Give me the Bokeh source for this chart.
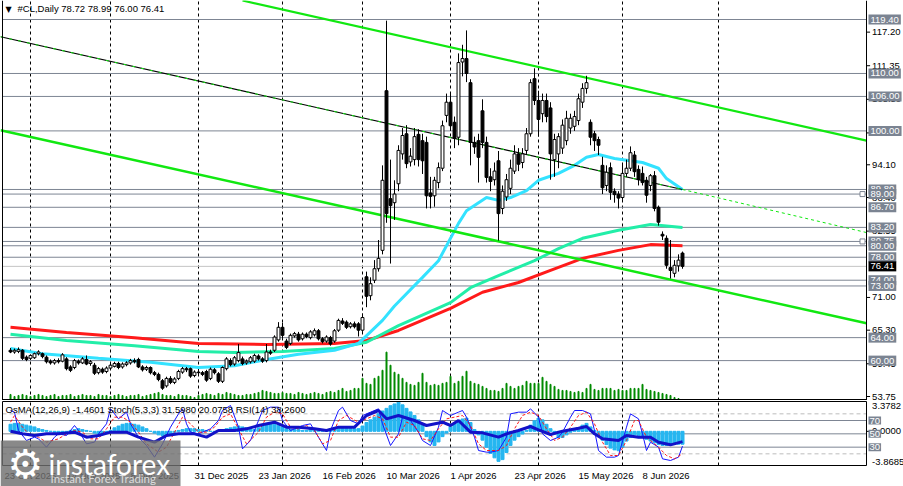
from bokeh.plotting import figure
from bokeh.models import Range1d, Label, ColumnDataSource, BoxAnnotation
from bokeh.layouts import column
from bokeh.core.properties import value
from bokeh.embed import file_html
from bokeh.resources import INLINE

# ---------------- data ----------------
symbol_header = "#CL,Daily  78.72 78.99 76.00 76.41"
ind_header = "OsMA(12,26,9) -1.4601  Stoch(5,3,3) 31.5980 20.0758  RSI(14) 38.2600"

bar_open = [
    61.8, 61.5, 61.6, 61.8, 60.6, 60.4, 60.5, 61.2, 61.2, 60.6,
    59.9, 59.6, 60.0, 59.9, 60.3, 58.9, 58.8, 59.9, 59.6, 60.2,
    59.5, 59.2, 57.9, 58.5, 58.1, 58.7, 59.0, 59.5, 58.9, 59.3,
    59.6, 60.0, 60.2, 58.9, 58.5, 58.8, 57.9, 57.6, 56.5, 55.6,
    56.9, 56.2, 56.9, 58.0, 58.6, 58.6, 57.4, 58.0, 57.9, 58.1,
    56.9, 58.4, 57.7, 56.4, 58.6, 60.0, 59.4, 60.0, 60.3, 59.6,
    59.8, 59.9, 60.8, 60.3, 60.0, 61.5, 61.8, 63.6, 65.8, 63.4,
    63.0, 64.3, 64.6, 63.8, 64.6, 64.0, 64.5, 65.2, 63.8, 63.4,
    64.0, 63.4, 65.3, 66.9, 66.7, 65.9, 66.4, 66.4, 65.3, 74.6,
    71.3, 74.0, 76.0, 79.2, 107.0, 88.2, 87.5, 90.8, 96.0, 99.5,
    94.6, 95.0, 99.4, 98.3, 98.0, 89.2, 88.7, 91.0, 93.5, 102.7,
    105.0, 101.5, 98.9, 112.0, 112.6, 108.4, 98.0, 98.3, 103.5, 98.0,
    92.0, 91.5, 94.8, 86.5, 88.5, 90.0, 93.0, 96.0, 94.5, 96.6,
    99.5, 109.1, 105.3, 103.0, 105.3, 104.0, 95.0, 96.0, 97.0, 98.3,
    100.5, 100.8, 101.8, 105.0, 107.4, 101.5, 99.5, 98.5, 94.0, 90.5,
    93.6, 89.5, 89.0, 88.4, 92.6, 93.5, 95.8, 93.3, 92.6, 91.4,
    90.5, 92.2, 86.7, 82.0, 81.3, 76.2, 75.2, 76.5, 78.72]
bar_high = [
    62.2, 62.1, 62.3, 62.0, 60.9, 61.1, 61.4, 61.8, 61.4, 60.9,
    60.2, 60.3, 60.4, 61.3, 60.6, 59.2, 60.3, 60.2, 60.6, 60.9,
    60.1, 59.6, 58.9, 58.8, 59.0, 59.5, 59.8, 59.8, 59.7, 59.9,
    60.3, 60.4, 60.5, 59.2, 59.1, 59.0, 58.2, 57.9, 56.8, 57.2,
    57.3, 57.1, 58.4, 58.9, 58.9, 58.8, 58.3, 58.4, 58.2, 58.4,
    58.8, 58.7, 58.0, 59.0, 60.6, 60.4, 60.8, 62.9, 60.7, 60.2,
    60.8, 61.2, 61.1, 60.6, 62.9, 61.9, 64.4, 66.7, 66.6, 63.8,
    64.7, 65.0, 65.0, 64.9, 64.9, 65.3, 65.6, 65.5, 64.1, 64.4,
    64.3, 65.5, 67.3, 67.4, 67.0, 66.7, 66.8, 66.7, 68.2, 75.5,
    74.5, 77.5, 81.0, 94.0, 119.2, 95.0, 91.4, 97.5, 100.5, 101.0,
    97.0, 100.5, 100.3, 99.5, 99.0, 92.0, 92.0, 94.5, 101.8, 106.5,
    106.5, 102.5, 113.5, 115.0, 117.5, 109.0, 99.0, 99.5, 105.5, 99.0,
    93.5, 94.5, 96.5, 90.5, 92.5, 95.0, 97.5, 97.0, 97.0, 100.5,
    109.0, 110.9, 107.0, 106.5, 106.5, 105.0, 99.5, 99.6, 102.0, 103.5,
    103.0, 103.5, 106.5, 108.3, 109.6, 102.0, 100.0, 99.0, 95.5, 94.0,
    94.5, 90.0, 89.5, 94.5, 95.0, 97.3, 96.5, 94.0, 93.8, 92.0,
    92.5, 93.0, 87.0, 82.5, 81.8, 81.0, 77.5, 78.5, 78.99]
bar_low = [
    61.3, 61.2, 61.3, 60.1, 59.9, 60.1, 60.3, 60.9, 60.4, 59.5,
    59.3, 59.3, 59.5, 59.7, 58.3, 58.0, 58.5, 59.3, 59.4, 59.2,
    59.1, 57.5, 57.6, 57.7, 57.8, 58.4, 58.8, 58.5, 58.6, 59.0,
    59.3, 59.5, 58.7, 58.1, 58.2, 57.6, 57.3, 56.4, 54.9, 55.3,
    55.9, 55.9, 56.6, 57.7, 58.0, 57.0, 57.1, 57.6, 57.3, 56.3,
    56.6, 57.6, 56.1, 56.1, 58.3, 59.0, 59.1, 59.7, 59.2, 59.3,
    59.5, 59.6, 60.0, 59.6, 59.7, 61.0, 61.5, 63.3, 63.9, 62.0,
    62.7, 64.0, 63.3, 63.5, 63.9, 63.7, 64.2, 63.5, 63.0, 63.1,
    62.6, 63.1, 65.0, 66.2, 65.5, 65.6, 65.6, 64.2, 65.0, 69.3,
    70.5, 73.5, 75.5, 78.5, 84.0, 76.9, 84.5, 89.5, 95.0, 93.5,
    93.8, 94.0, 93.8, 92.5, 86.5, 86.5, 86.8, 90.0, 93.0, 101.5,
    100.0, 97.0, 97.5, 109.5, 108.5, 94.0, 96.0, 91.0, 97.0, 91.0,
    89.5, 90.5, 80.9, 85.5, 87.8, 89.0, 92.5, 93.0, 93.5, 96.0,
    99.0, 104.5, 99.0, 101.5, 101.5, 91.5, 92.0, 93.5, 96.0, 97.5,
    99.5, 100.0, 101.0, 104.0, 106.5, 97.5, 96.5, 95.8, 89.0, 89.5,
    88.0, 87.5, 86.5, 88.0, 92.0, 93.0, 92.0, 90.5, 90.5, 87.5,
    89.5, 86.0, 83.5, 81.0, 76.0, 74.3, 74.5, 75.5, 76.00]
bar_close = [
    61.5, 61.8, 61.9, 60.4, 60.2, 60.9, 61.2, 61.5, 60.7, 59.8,
    59.6, 60.0, 59.8, 61.0, 58.6, 58.3, 60.0, 59.6, 60.3, 59.4,
    59.8, 57.8, 58.6, 58.0, 58.7, 59.2, 59.5, 58.8, 59.4, 59.6,
    60.0, 59.8, 58.9, 58.4, 58.8, 57.9, 57.6, 56.7, 55.2, 56.9,
    56.2, 56.8, 58.1, 58.6, 58.4, 57.3, 58.0, 57.9, 57.6, 56.6,
    58.5, 57.9, 56.4, 58.8, 60.3, 59.3, 60.5, 61.4, 59.5, 59.9,
    60.5, 60.9, 60.3, 59.9, 61.5, 61.3, 64.1, 65.8, 64.4, 62.3,
    64.4, 64.7, 63.6, 64.6, 64.2, 65.0, 65.2, 63.8, 63.3, 64.1,
    62.9, 65.2, 67.0, 66.5, 65.8, 66.4, 65.9, 65.3, 67.5, 71.2,
    73.4, 76.0, 77.8, 91.4, 85.6, 87.0, 89.0, 96.6, 99.2, 94.3,
    95.6, 99.0, 95.0, 94.8, 88.7, 88.6, 91.4, 93.6, 100.9, 105.0,
    100.9, 98.7, 111.9, 112.6, 110.0, 98.0, 97.2, 95.4, 98.0, 91.9,
    91.2, 93.0, 85.6, 89.5, 91.5, 93.5, 96.0, 94.2, 96.0, 99.5,
    108.4, 105.3, 102.0, 105.3, 102.5, 96.0, 98.5, 99.0, 101.0, 102.2,
    102.2, 102.5, 105.6, 107.4, 108.4, 98.9, 98.3, 97.5, 90.1, 92.8,
    89.3, 88.9, 88.3, 92.6, 93.5, 96.2, 92.9, 91.5, 91.0, 88.8,
    92.2, 86.5, 84.1, 81.7, 76.6, 75.7, 76.6, 77.5, 76.41]
volume = [
    6, 4, 5, 6, 5, 4, 5, 6, 5, 4,
    5, 6, 4, 5, 5, 6, 4, 5, 6, 5,
    5, 4, 6, 5, 5, 4, 5, 6, 5, 4,
    5, 5, 6, 4, 5, 6, 7, 8, 6, 5,
    5, 4, 6, 5, 5, 4, 3, 5, 6, 7,
    6, 5, 7, 6, 8, 7, 6, 5, 5, 6,
    6, 7, 8, 10, 9, 8, 7, 7, 8, 7,
    7, 6, 8, 7, 6, 7, 8, 7, 6, 8,
    9, 8, 10, 12, 9, 10, 12, 12, 22,
    17, 16, 22, 24, 30, 48, 35, 28, 26, 22, 18, 16, 15, 18, 27,
    18, 15, 16, 15, 17, 18,
    24, 17, 19, 24, 29, 19, 17, 16, 14, 12,
    10, 10, 9, 12, 17, 14, 12, 14, 15, 19,
    17, 17, 17, 23, 19, 16, 14, 11, 10, 10,
    9, 8, 9, 8, 12, 16, 11, 10, 12, 12,
    12, 10, 11, 10, 10, 12, 12, 12, 16, 11,
    10, 9, 8, 7, 6, 5, 3, 2, 1]

ma_fast_idx = [0, 8, 22, 35, 47, 56, 64, 72, 81, 87, 93, 96, 103, 107, 112, 114, 119, 122, 125, 129, 132, 137, 141, 144, 147, 151, 158, 162, 164, 168]
ma_fast = [62.1, 61.2, 60.4, 59.7, 58.8, 59.1, 60.2, 61.1, 61.8, 63.0, 67.0, 69.5, 74.5, 77.4, 83.9, 86.1, 88.4, 87.9, 88.4, 89.6, 91.4, 92.6, 94.0, 95.4, 95.9, 95.2, 94.5, 93.5, 91.7, 89.8]
ma_mid_idx = [0, 14, 31, 47, 56, 68, 81, 89, 97, 110, 115, 122, 131, 137, 143, 152, 160, 168]
ma_mid = [64.6, 63.5, 62.6, 61.6, 61.4, 61.6, 62.1, 63.2, 66.1, 70.1, 72.7, 74.8, 77.4, 79.5, 81.3, 82.7, 83.7, 83.2]
ma_slow_idx = [0, 14, 31, 47, 64, 81, 89, 97, 110, 118, 127, 135, 143, 152, 160, 168]
ma_slow = [65.8, 64.9, 64.0, 63.0, 62.8, 63.0, 63.5, 65.25, 69.1, 71.9, 73.6, 75.7, 77.8, 79.2, 80.2, 80.0]

# trend lines: (bar index, price) anchors
chan_top_idx = [58, 214]
chan_top = [122.7, 98.3]
chan_low_idx = [-2.5, 214]
chan_low = [100.1, 66.5]
mid_line_idx = [-2.5, 168]
mid_line = [116.4, 89.8]
mid_ext_idx = [168, 214]
mid_ext = [89.8, 82.3]

levels = [119.40, 110.00, 106.00, 100.00, 89.80, 89.00, 86.70, 83.20, 80.75, 80.00, 78.00, 74.00, 73.00, 64.00, 60.00]
anchored_levels = [89.00, 80.75]
last_price = 76.41
price_ticks = [117.20, 111.35, 105.50, 99.65, 94.10, 88.40, 82.55, 71.00, 65.30, 59.45, 53.75]

month_starts = [5, 25, 47, 68, 88, 110, 132, 153, 177]
date_ticks = [-1.5, 14, 30, 46, 62, 78, 94, 110, 126, 142, 158]
date_labels = ["23 Oct 2025", "14 Nov 2025", "8 Dec 2025", "31 Dec 2025", "23 Jan 2026", "16 Feb 2026",
               "10 Mar 2026", "1 Apr 2026", "23 Apr 2026", "15 May 2026", "8 Jun 2026"]

osma = [
    0.8, 0.9, 0.9, 0.8, 0.7, 0.6, 0.5, 0.3, 0.2, 0.1,
    0.0, -0.1, -0.2, -0.2, -0.1, 0.1, 0.2, 0.3, 0.2, 0.1,
    0.0, -0.2, -0.3, -0.2, -0.1, 0.1, 0.4, 0.6, 0.8, 0.9,
    0.9, 0.8, 0.7, 0.5, 0.3, 0.0, -0.2, -0.4, -0.5, -0.4,
    -0.3, -0.1, 0.1, 0.2, 0.3, 0.3, 0.3, 0.2, 0.2, 0.1,
    0.0, -0.1, 0.0, 0.1, 0.3, 0.4, 0.5, 0.6, 0.5, 0.4,
    0.3, 0.2, 0.4, 0.6, 0.8, 0.9, 0.8, 0.7, 0.5, 0.3,
    0.2, 0.2, 0.2, 0.1, 0.1, 0.2, 0.2, 0.1, 0.1, 0.2,
    0.3, 0.3, 0.4, 0.4, 0.4, 0.3, 0.3, 0.3, 0.6, 1.0,
    1.3, 1.6, 2.0, 2.3, 2.6, 2.9, 3.1, 3.3, 3.0, 2.6,
    2.2, 1.8, 1.3, 0.8, -0.6, -1.2, -1.6, -1.2, -0.6, -0.2,
    0.5, 0.9, 1.2, 1.4, 1.5, 1.0, 0.2, -0.4, -1.0, -1.8,
    -2.5, -3.0, -3.4, -3.2, -2.4, -1.6, -1.0, -0.6, -0.3, 0.1,
    0.7, 1.2, 1.5, 1.3, 0.8, 0.3, -0.3, -0.7, -0.7, -0.4,
    -0.1, 0.2, 0.4, 0.7, 0.9, 0.5, 0.1, -0.5, -1.0, -1.5,
    -1.9, -2.1, -2.2, -1.8, -1.1, -0.7, -0.4, -0.5, -0.7, -0.9,
    -1.1, -1.3, -1.5, -1.6, -1.6, -1.5, -1.5, -1.45, -1.46]
osma_min, osma_max = -3.8685, 3.3782

rsi_idx = [0, 3, 6, 9, 12, 16, 19, 22, 25, 29, 32, 36, 39, 42, 46, 49, 52, 56, 59, 62, 66, 69, 72, 76, 79, 82, 86, 89, 92, 94,
           97, 101, 104, 108, 110, 112, 115, 118, 122, 124, 127, 130, 132, 135, 138, 142, 144, 146, 148, 152, 154, 157, 160, 162, 165, 168]
rsi = [54, 50, 47.5, 50, 50, 52.5, 45, 47.5, 52.5, 52.5, 45, 37.5, 47.5, 50, 50, 45, 55, 55, 57.5, 62.5, 67.5, 60, 60, 57.5, 55, 60, 60, 77.5, 85, 72.5,
       77.5, 70, 62.5, 67.5, 62.5, 70, 52.5, 51.5, 45, 50, 55, 61, 56, 49, 54, 58.5, 61, 50, 42.5, 40, 47.5, 45, 45, 37.5, 33.5, 38.26]

stoch_idx = [0, 1, 2, 4, 6, 7, 9, 11, 12, 14, 16, 17, 19, 21, 22, 24, 25, 27, 29, 30, 32, 34, 36, 38, 40, 42, 43, 44, 45, 47,
             50, 52, 53, 55, 57, 58, 60, 62, 63, 65, 67, 68, 70, 72, 73, 75, 77, 79, 80, 82, 83, 85, 87, 88, 90, 92, 93, 95, 97, 98,
             100, 102, 103, 105, 107, 108, 110, 112, 113, 114, 116, 117, 119, 120, 122, 124, 125, 127, 129, 130, 132, 133, 135, 137, 138, 140, 141, 143, 145, 146,
             147, 149, 151, 152, 154, 155, 157, 158, 159, 160, 162, 163, 165, 167, 168]
stoch_main = [85, 82.5, 55, 40, 45, 42.5, 30, 45, 50, 47.5, 62.5, 55, 35, 37.5, 50, 65, 87.5, 72.5, 82.5, 65, 45, 32.5, 15, 35, 60, 80, 87.5, 65, 52.5, 50,
              57.5, 70, 85, 92.5, 60, 27.5, 40, 70, 85, 90, 90, 70, 55, 60, 62.5, 65, 45, 25, 55, 85, 90, 70, 65, 77.5, 82.5, 87.5, 65, 32.5, 50, 75,
              70, 52.5, 40, 32.5, 60, 85, 77.5, 82.5, 85, 75, 45, 25, 22.5, 22.5, 25, 45, 80, 82.5, 82.5, 87.5, 75, 50, 40, 45, 52.5, 75, 85, 85, 80, 55,
              25, 15, 15, 17.5, 60, 80, 72.5, 50, 25, 37.5, 30, 12.5, 10, 15, 31.6]
sig_idx = [0, 1, 3, 5, 7, 9, 12, 14, 16, 18, 20, 22, 24, 26, 28, 30, 32, 34, 37, 39, 41, 43, 45, 47, 49, 51, 53, 55, 57, 59,
           62, 64, 66, 68, 70, 72, 74, 76, 78, 80, 82, 84, 87, 89, 91, 93, 95, 97, 99, 101, 103, 105, 107, 109, 111, 113, 115, 117, 119, 122,
           124, 126, 128, 130, 132, 134, 136, 138, 140, 142, 144, 146, 148, 150, 152, 154, 156, 157, 159, 162, 164, 166, 168]
stoch_signal = [67.5, 77.5, 60, 47.5, 45, 37.5, 42.5, 50, 55, 52.5, 42.5, 42.5, 57.5, 75, 75, 67.5, 52.5, 35, 22.5, 30, 52.5, 75, 65, 52.5, 52.5, 60, 75, 80, 57.5, 35,
                52.5, 75, 82.5, 80, 60, 57.5, 62.5, 55, 35, 40, 70, 77.5, 67.5, 72.5, 77.5, 72.5, 45, 45, 67.5, 62.5, 42.5, 40, 57.5, 72.5, 75, 77.5, 62.5, 35, 25, 25,
                32.5, 57.5, 77.5, 82.5, 77.5, 57.5, 40, 45, 60, 77.5, 82.5, 65, 37.5, 17.5, 17.5, 40, 70, 70, 45, 30, 17.5, 12.5, 20.08]
ind_levels = [70, 50, 30]
ind_dash_levels = [80, 20]

# ---------------- layout constants (pixels) ----------------
FONT = "Liberation Sans"
FS = "9.5px"
LEVEL_GREY = "#7d8593"
BOX_GREY = "#7b8492"
W = 903
MAIN_H, IND_H = 400, 86
PX_PER_BAR = 4.0
X_START = -2.5                      # bar index at the left edge of the canvas
AXIS_PX = 866                       # price-scale line
LEFT_PX = 2

def x_at(px):
    return X_START + px / PX_PER_BAR

# main panel price scale: 119.40 at y=19 px, 53.75 at y=396 px
P_PER_PX = (119.40 - 53.75) / (396 - 19)
def price_at(py):
    return 119.40 - (py - 19) * P_PER_PX

# indicator panel occupies y=401..465 within the page (ind canvas starts at y=400)
IND_TOP, IND_BOT = 401, 465
OSC_TOP, OSC_BOT = 98.5, 2.5
O_PER_PX = (OSC_TOP - OSC_BOT) / (IND_BOT - IND_TOP)
def osc_at(py):
    return OSC_TOP - (py - IND_TOP) * O_PER_PX
M_PER_PX = (osma_max - osma_min) / (IND_BOT - IND_TOP)
def osma_at(py):
    return osma_max - (py - IND_TOP) * M_PER_PX

axis_x = x_at(AXIS_PX)
left_x = x_at(LEFT_PX)
xr = Range1d(X_START, x_at(W))

# ---------------- main panel ----------------
main = figure(width=W, height=MAIN_H, x_range=xr, y_range=Range1d(price_at(MAIN_H), price_at(0)),
              x_axis_location=None, y_axis_location=None, toolbar_location=None, output_backend="svg",
              min_border=0, outline_line_color=None, background_fill_color="white", border_fill_color="white")
main.xgrid.visible = False
main.ygrid.visible = False
main.extra_y_ranges = {"vol": Range1d(0, 397)}

ylo, yhi = price_at(MAIN_H), price_at(0)
main.segment(x0=month_starts, x1=month_starts, y0=[ylo] * len(month_starts), y1=[yhi] * len(month_starts),
             line_color="black", line_dash="3 3", line_width=1)
main.segment(x0=[left_x] * len(levels), x1=[axis_x] * len(levels), y0=levels, y1=levels, line_color=LEVEL_GREY, line_width=1)
main.segment(x0=[left_x], x1=[axis_x], y0=[last_price], y1=[last_price], line_color="#c4c4c4", line_width=1)

xs = list(range(len(bar_close)))
main.vbar(x=xs, top=volume, bottom=0, width=0.25, y_range_name="vol", color="#008a00")

main.line(ma_slow_idx, ma_slow, line_color="#ff1a1a", line_width=3)
main.line(ma_mid_idx, ma_mid, line_color="#22eea8", line_width=3)
main.line(ma_fast_idx, ma_fast, line_color="#33e2ff", line_width=3)

main.line(chan_top_idx, chan_top, line_color="#11e811", line_width=2.2)
main.line(chan_low_idx, chan_low, line_color="#11e811", line_width=2.5)
main.line(mid_line_idx, mid_line, line_color="black", line_width=1.2)
main.line(mid_line_idx, mid_line, line_color="#11e811", line_width=1, line_dash="3 6")
main.line(mid_ext_idx, mid_ext, line_color="#11e811", line_width=1, line_dash="3 3")

up = [c >= o for o, c in zip(bar_open, bar_close)]
src = ColumnDataSource(dict(
    x=xs, h=bar_high, l=bar_low,
    top=[max(o, c) for o, c in zip(bar_open, bar_close)],
    bot=[min(o, c) for o, c in zip(bar_open, bar_close)],
    fill=["white" if u else "black" for u in up]))
main.segment(x0="x", y0="l", x1="x", y1="h", source=src, line_color="black", line_width=1)
main.vbar(x="x", top="top", bottom="bot", width=0.72, source=src, fill_color="fill", line_color="black", line_width=1)

main.scatter(x=[axis_x - 1.0] * len(anchored_levels), y=anchored_levels, marker="square", size=5,
             fill_color="white", line_color=LEVEL_GREY)

# frame lines and price scale
main.segment(x0=[left_x], x1=[left_x], y0=[ylo], y1=[yhi], line_color="black", line_width=1)
main.segment(x0=[axis_x], x1=[axis_x], y0=[ylo], y1=[yhi], line_color="black", line_width=1)
main.segment(x0=[left_x], x1=[axis_x], y0=[price_at(MAIN_H - 1)], y1=[price_at(MAIN_H - 1)], line_color="black", line_width=1)
main.segment(x0=[axis_x] * len(price_ticks), x1=[axis_x + 0.9] * len(price_ticks), y0=price_ticks, y1=price_ticks,
             line_color="black", line_width=1)
main.text(x=[axis_x + 1.4] * len(price_ticks), y=price_ticks, text=[f"{t:.2f}" for t in price_ticks],
          text_font=value(FONT), text_font_size=FS, text_color="black", text_baseline="middle", text_align="left")

for lv in levels:
    main.add_layout(Label(x=axis_x + 0.5, y=lv, text=f"{lv:.2f}", text_font=FONT, text_font_size=FS,
                          text_color="white", text_baseline="middle", background_fill_color=BOX_GREY, padding=2))
main.add_layout(Label(x=axis_x + 0.5, y=last_price, text=f"{last_price:.2f}", text_font=FONT, text_font_size=FS,
                      text_color="white", text_baseline="middle", background_fill_color="black", padding=2))

main.add_layout(Label(x=5, y=MAIN_H - 9, x_units="screen", y_units="screen", text="▼",
                      text_font="DejaVu Sans", text_font_size="8px", text_color="black", text_baseline="middle"))
main.add_layout(Label(x=17, y=MAIN_H - 8, x_units="screen", y_units="screen", text=symbol_header,
                      text_font=FONT, text_font_size=FS, text_color="black", text_baseline="middle"))

# ---------------- indicator panel ----------------
CANVAS_TOP = MAIN_H
ind = figure(width=W, height=IND_H, x_range=xr,
             y_range=Range1d(osc_at(CANVAS_TOP + IND_H), osc_at(CANVAS_TOP)),
             x_axis_location=None, y_axis_location=None, toolbar_location=None, output_backend="svg",
             min_border=0, outline_line_color=None, background_fill_color="white", border_fill_color="white")
ind.xgrid.visible = False
ind.ygrid.visible = False
ind.extra_y_ranges = {"osma": Range1d(osma_at(CANVAS_TOP + IND_H), osma_at(CANVAS_TOP))}

ind.segment(x0=month_starts, x1=month_starts, y0=[OSC_BOT] * len(month_starts), y1=[OSC_TOP] * len(month_starts),
            line_color="black", line_dash="3 3", line_width=1)
ind.segment(x0=[left_x] * 3, x1=[axis_x] * 3, y0=ind_levels, y1=ind_levels, line_color=LEVEL_GREY, line_width=1)
ind.segment(x0=[left_x] * 2, x1=[axis_x] * 2, y0=ind_dash_levels, y1=ind_dash_levels, line_color="#bdbdbd",
            line_width=1, line_dash="4 3")

ind.vbar(x=xs, top=osma, bottom=0, width=0.75, y_range_name="osma", color="#26b6f0")
ind.line(stoch_idx, stoch_main, line_color="#1414ff", line_width=1)
ind.line(sig_idx, stoch_signal, line_color="#ff1a1a", line_width=1, line_dash="3 2")
ind.line(rsi_idx, rsi, line_color="#1212c8", line_width=3)

ind.segment(x0=[left_x, left_x], x1=[axis_x, axis_x], y0=[OSC_TOP, OSC_BOT], y1=[OSC_TOP, OSC_BOT], line_color="black", line_width=1)
ind.segment(x0=[left_x, axis_x], x1=[left_x, axis_x], y0=[OSC_BOT, OSC_BOT], y1=[OSC_TOP, OSC_TOP], line_color="black", line_width=1)

ind.segment(x0=[axis_x], x1=[axis_x + 0.9], y0=[0.0], y1=[0.0], y_range_name="osma", line_color="black")
ind.text(x=[axis_x + 1.4], y=[osma_max], text=[f"{osma_max:.4f}"], y_range_name="osma",
         text_font=value(FONT), text_font_size=FS, text_baseline="top", text_align="left", y_offset=1)
ind.text(x=[axis_x + 1.4], y=[0.0], text=["0.0000"], y_range_name="osma",
         text_font=value(FONT), text_font_size=FS, text_baseline="middle", text_align="left")
ind.text(x=[axis_x + 1.4], y=[osma_min], text=[f"{osma_min:.4f}"], y_range_name="osma",
         text_font=value(FONT), text_font_size=FS, text_baseline="bottom", text_align="left", y_offset=-1)
for lv in ind_levels:
    ind.add_layout(Label(x=axis_x + 0.5, y=lv, text=str(lv), text_font=FONT, text_font_size=FS,
                         text_color="white", text_baseline="middle", background_fill_color=BOX_GREY, padding=1))

ind.text(x=date_ticks, y=[osc_at(475)] * len(date_ticks), text=date_labels, text_font=value(FONT),
         text_font_size=FS, text_color="black", text_baseline="middle", text_align="left")

ind.add_layout(Label(x=5, y=IND_H - 9, x_units="screen", y_units="screen", text=ind_header,
                     text_font=FONT, text_font_size=FS, text_color="black", text_baseline="middle"))

# watermark logo (bottom-left corner, 180 x 46 px)
ind.add_layout(BoxAnnotation(left=0, right=180, bottom=0, top=46, left_units="screen", right_units="screen",
                             bottom_units="screen", top_units="screen", fill_color="#6f6f6f", fill_alpha=0.82,
                             line_color=None))
ind.add_layout(Label(x=48, y=23, x_units="screen", y_units="screen", text="instaforex",
                     text_font="Lato", text_font_size="28px", text_color="white", text_baseline="middle"))
ind.add_layout(Label(x=7, y=23, x_units="screen", y_units="screen", text="⚙",
                     text_font="DejaVu Sans", text_font_size="40px", text_color="white", text_baseline="middle"))
ind.add_layout(Label(x=50, y=8, x_units="screen", y_units="screen", text="Instant Forex Trading",
                     text_font="Lato", text_font_size="11.5px", text_color="#dcdcdc", text_baseline="middle"))

layout = column(main, ind, spacing=0)
open("out.html", "w").write(file_html(layout, INLINE))
